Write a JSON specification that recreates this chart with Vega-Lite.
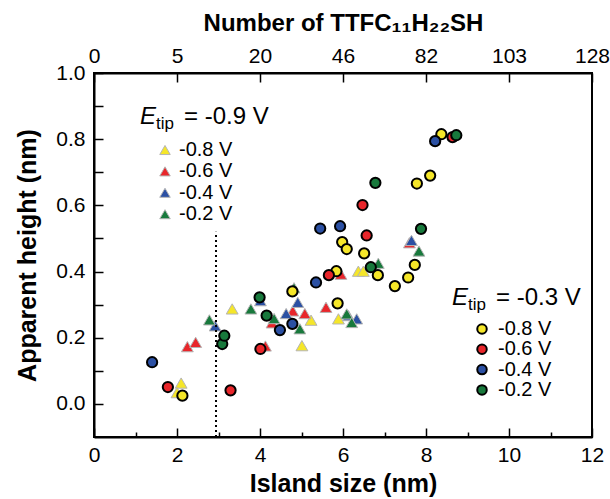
{
  "$schema": "https://vega.github.io/schema/vega-lite/v6.json",
  "width": 498,
  "height": 364,
  "autosize": {"type": "none"},
  "padding": {"left": 94, "top": 73, "right": 18, "bottom": 62},
  "background": "white",
  "config": {
    "view": {"stroke": "black", "strokeWidth": 2},
    "font": "Liberation Sans",
    "axis": {
      "grid": false,
      "domainColor": "black",
      "domainWidth": 2,
      "tickColor": "black",
      "tickWidth": 1.5,
      "labelFont": "Liberation Sans",
      "labelFontSize": 21,
      "labelColor": "black",
      "titleFont": "Liberation Sans",
      "titleFontSize": 25,
      "titleFontWeight": "bold",
      "titleColor": "black",
      "labelFlush": false,
      "labelOverlap": false
    }
  },
  "datasets": {
    "pts": [
      {"size": 2.10, "height": 0.063, "etip": "-0.9 V", "bias": "-0.8 V"},
      {"size": 2.00, "height": 0.034, "etip": "-0.9 V", "bias": "-0.8 V"},
      {"size": 3.33, "height": 0.287, "etip": "-0.9 V", "bias": "-0.8 V"},
      {"size": 5.01, "height": 0.176, "etip": "-0.9 V", "bias": "-0.8 V"},
      {"size": 5.23, "height": 0.253, "etip": "-0.9 V", "bias": "-0.8 V"},
      {"size": 5.89, "height": 0.257, "etip": "-0.9 V", "bias": "-0.8 V"},
      {"size": 6.37, "height": 0.401, "etip": "-0.9 V", "bias": "-0.8 V"},
      {"size": 6.49, "height": 0.401, "etip": "-0.9 V", "bias": "-0.8 V"},
      {"size": 2.25, "height": 0.173, "etip": "-0.9 V", "bias": "-0.6 V"},
      {"size": 2.45, "height": 0.186, "etip": "-0.9 V", "bias": "-0.6 V"},
      {"size": 4.13, "height": 0.175, "etip": "-0.9 V", "bias": "-0.6 V"},
      {"size": 4.29, "height": 0.245, "etip": "-0.9 V", "bias": "-0.6 V"},
      {"size": 4.79, "height": 0.281, "etip": "-0.9 V", "bias": "-0.6 V"},
      {"size": 5.08, "height": 0.273, "etip": "-0.9 V", "bias": "-0.6 V"},
      {"size": 5.59, "height": 0.292, "etip": "-0.9 V", "bias": "-0.6 V"},
      {"size": 5.95, "height": 0.392, "etip": "-0.9 V", "bias": "-0.6 V"},
      {"size": 7.60, "height": 0.487, "etip": "-0.9 V", "bias": "-0.6 V"},
      {"size": 2.92, "height": 0.236, "etip": "-0.9 V", "bias": "-0.4 V"},
      {"size": 4.01, "height": 0.312, "etip": "-0.9 V", "bias": "-0.4 V"},
      {"size": 4.63, "height": 0.273, "etip": "-0.9 V", "bias": "-0.4 V"},
      {"size": 4.91, "height": 0.307, "etip": "-0.9 V", "bias": "-0.4 V"},
      {"size": 6.13, "height": 0.267, "etip": "-0.9 V", "bias": "-0.4 V"},
      {"size": 6.33, "height": 0.257, "etip": "-0.9 V", "bias": "-0.4 V"},
      {"size": 7.65, "height": 0.494, "etip": "-0.9 V", "bias": "-0.4 V"},
      {"size": 2.78, "height": 0.254, "etip": "-0.9 V", "bias": "-0.2 V"},
      {"size": 3.78, "height": 0.287, "etip": "-0.9 V", "bias": "-0.2 V"},
      {"size": 4.34, "height": 0.258, "etip": "-0.9 V", "bias": "-0.2 V"},
      {"size": 4.82, "height": 0.351, "etip": "-0.9 V", "bias": "-0.2 V"},
      {"size": 4.96, "height": 0.227, "etip": "-0.9 V", "bias": "-0.2 V"},
      {"size": 6.09, "height": 0.272, "etip": "-0.9 V", "bias": "-0.2 V"},
      {"size": 6.21, "height": 0.246, "etip": "-0.9 V", "bias": "-0.2 V"},
      {"size": 6.85, "height": 0.425, "etip": "-0.9 V", "bias": "-0.2 V"},
      {"size": 7.83, "height": 0.462, "etip": "-0.9 V", "bias": "-0.2 V"},
      {"size": 2.13, "height": 0.025, "etip": "-0.3 V", "bias": "-0.8 V"},
      {"size": 4.78, "height": 0.340, "etip": "-0.3 V", "bias": "-0.8 V"},
      {"size": 5.84, "height": 0.401, "etip": "-0.3 V", "bias": "-0.8 V"},
      {"size": 5.87, "height": 0.304, "etip": "-0.3 V", "bias": "-0.8 V"},
      {"size": 5.98, "height": 0.489, "etip": "-0.3 V", "bias": "-0.8 V"},
      {"size": 6.09, "height": 0.468, "etip": "-0.3 V", "bias": "-0.8 V"},
      {"size": 6.51, "height": 0.455, "etip": "-0.3 V", "bias": "-0.8 V"},
      {"size": 6.84, "height": 0.389, "etip": "-0.3 V", "bias": "-0.8 V"},
      {"size": 7.25, "height": 0.356, "etip": "-0.3 V", "bias": "-0.8 V"},
      {"size": 7.57, "height": 0.382, "etip": "-0.3 V", "bias": "-0.8 V"},
      {"size": 7.73, "height": 0.420, "etip": "-0.3 V", "bias": "-0.8 V"},
      {"size": 7.78, "height": 0.666, "etip": "-0.3 V", "bias": "-0.8 V"},
      {"size": 8.10, "height": 0.690, "etip": "-0.3 V", "bias": "-0.8 V"},
      {"size": 8.37, "height": 0.815, "etip": "-0.3 V", "bias": "-0.8 V"},
      {"size": 1.78, "height": 0.051, "etip": "-0.3 V", "bias": "-0.6 V"},
      {"size": 3.29, "height": 0.041, "etip": "-0.3 V", "bias": "-0.6 V"},
      {"size": 4.01, "height": 0.166, "etip": "-0.3 V", "bias": "-0.6 V"},
      {"size": 5.66, "height": 0.389, "etip": "-0.3 V", "bias": "-0.6 V"},
      {"size": 6.47, "height": 0.601, "etip": "-0.3 V", "bias": "-0.6 V"},
      {"size": 6.57, "height": 0.509, "etip": "-0.3 V", "bias": "-0.6 V"},
      {"size": 8.64, "height": 0.806, "etip": "-0.3 V", "bias": "-0.6 V"},
      {"size": 1.40, "height": 0.126, "etip": "-0.3 V", "bias": "-0.4 V"},
      {"size": 4.48, "height": 0.223, "etip": "-0.3 V", "bias": "-0.4 V"},
      {"size": 4.78, "height": 0.242, "etip": "-0.3 V", "bias": "-0.4 V"},
      {"size": 5.35, "height": 0.367, "etip": "-0.3 V", "bias": "-0.4 V"},
      {"size": 5.45, "height": 0.530, "etip": "-0.3 V", "bias": "-0.4 V"},
      {"size": 5.93, "height": 0.537, "etip": "-0.3 V", "bias": "-0.4 V"},
      {"size": 8.22, "height": 0.794, "etip": "-0.3 V", "bias": "-0.4 V"},
      {"size": 3.09, "height": 0.181, "etip": "-0.3 V", "bias": "-0.2 V"},
      {"size": 3.14, "height": 0.206, "etip": "-0.3 V", "bias": "-0.2 V"},
      {"size": 3.99, "height": 0.322, "etip": "-0.3 V", "bias": "-0.2 V"},
      {"size": 4.16, "height": 0.267, "etip": "-0.3 V", "bias": "-0.2 V"},
      {"size": 6.67, "height": 0.413, "etip": "-0.3 V", "bias": "-0.2 V"},
      {"size": 6.78, "height": 0.668, "etip": "-0.3 V", "bias": "-0.2 V"},
      {"size": 7.88, "height": 0.529, "etip": "-0.3 V", "bias": "-0.2 V"},
      {"size": 8.73, "height": 0.812, "etip": "-0.3 V", "bias": "-0.2 V"}
    ]
  },
  "layer": [
    {
      "data": {"name": "pts"},
      "transform": [{"filter": "datum.etip == '-0.9 V'"}],
      "mark": {"type": "point", "shape": "triangle-up", "filled": true, "size": 140, "stroke": "#b5b5b5", "strokeWidth": 1, "opacity": 1},
      "encoding": {
        "x": {
          "field": "size", "type": "quantitative",
          "scale": {"domain": [0, 12], "nice": false, "zero": false},
          "axis": {"orient": "bottom", "values": [0, 2, 4, 6, 8, 10, 12], "format": "d", "tickSize": -9, "labelPadding": 16, "title": "Island size (nm)", "titlePadding": 6}
        },
        "y": {
          "field": "height", "type": "quantitative",
          "scale": {"domain": [-0.1, 1.0], "nice": false, "zero": false},
          "axis": {"orient": "left", "values": [0, 0.1, 0.2, 0.3, 0.4, 0.5, 0.6, 0.7, 0.8, 0.9, 1.0], "labelExpr": "round(datum.value*10) % 2 == 0 ? format(datum.value, '.1f') : ''", "tickSize": -9, "labelPadding": 18, "title": "Apparent height (nm)", "titlePadding": 15}
        },
        "fill": {
          "field": "bias", "type": "nominal",
          "scale": {"domain": ["-0.8 V", "-0.6 V", "-0.4 V", "-0.2 V"], "range": ["#f5e629", "#e8262b", "#2b50a3", "#18793c"]},
          "legend": {"orient": "none", "legendX": 61, "legendY": 67, "title": null, "symbolType": "triangle-up", "symbolSize": 110, "symbolStrokeColor": "#b5b5b5", "symbolStrokeWidth": 1, "symbolOpacity": 1, "labelFontSize": 20, "labelFont": "Liberation Sans", "labelColor": "black", "labelOffset": 4, "rowPadding": 1.4, "padding": 0, "labelLimit": 200}
        }
      }
    },
    {
      "data": {"name": "pts"},
      "transform": [{"filter": "datum.etip == '-0.3 V'"}],
      "mark": {"type": "point", "shape": "circle", "filled": true, "size": 105, "stroke": "black", "strokeWidth": 2, "opacity": 1},
      "encoding": {
        "x": {
          "field": "size", "type": "quantitative",
          "scale": {"domain": [0, 12], "nice": false, "zero": false},
          "axis": {"orient": "bottom", "values": [1, 3, 5, 7, 9, 11], "labels": false, "domain": false, "tickSize": -5, "title": null}
        },
        "y": {
          "field": "height", "type": "quantitative",
          "scale": {"domain": [-0.1, 1.0], "nice": false, "zero": false},
          "axis": null
        },
        "fill": {
          "field": "bias", "type": "nominal",
          "scale": {"domain": ["-0.8 V", "-0.6 V", "-0.4 V", "-0.2 V"], "range": ["#f5e629", "#e8262b", "#2b50a3", "#18793c"]},
          "legend": {"orient": "none", "legendX": 378, "legendY": 246, "title": null, "symbolType": "circle", "symbolSize": 90, "symbolStrokeColor": "black", "symbolStrokeWidth": 2, "symbolOpacity": 1, "labelFontSize": 20, "labelFont": "Liberation Sans", "labelColor": "black", "labelOffset": 6, "rowPadding": 0.3, "padding": 0, "labelLimit": 200}
        }
      }
    },
    {
      "data": {"values": [{"label": "threshold"}]},
      "mark": {"type": "rule", "color": "black", "strokeWidth": 2, "strokeDash": [2, 3]},
      "encoding": {
        "x": {
          "datum": 2.94, "type": "quantitative",
          "scale": {"domain": [0, 12], "nice": false, "zero": false},
          "axis": {"orient": "top", "values": [0, 2, 4, 6, 8, 10, 12], "labelExpr": "datum.value == 0 ? '0' : datum.value == 2 ? '5' : datum.value == 4 ? '20' : datum.value == 6 ? '46' : datum.value == 8 ? '82' : datum.value == 10 ? '103' : '128'", "tickSize": -9, "labelPadding": 16, "title": "Number of TTFC₁₁H₂₂SH", "titleFontSize": 24, "titlePadding": 10}
        },
        "y": {"datum": -0.1, "type": "quantitative", "scale": {"domain": [-0.1, 1.0], "nice": false, "zero": false}, "axis": null},
        "y2": {"datum": 0.52}
      }
    },
    {
      "data": {"values": [{"t": "E"}]},
      "mark": {"type": "text", "align": "left", "baseline": "alphabetic", "fontSize": 24, "fontStyle": "italic", "font": "Liberation Sans", "color": "black"},
      "encoding": {
        "x": {"datum": 1.108, "type": "quantitative", "scale": {"domain": [0, 12], "nice": false, "zero": false}, "axis": null},
        "y": {"datum": 0.845, "type": "quantitative", "scale": {"domain": [-0.1, 1.0], "nice": false, "zero": false}, "axis": null},
        "text": {"field": "t"}
      }
    },
    {
      "data": {"values": [{"t": "tip"}]},
      "mark": {"type": "text", "align": "left", "baseline": "alphabetic", "fontSize": 17, "font": "Liberation Sans", "color": "black", "dx": 16, "dy": 5},
      "encoding": {
        "x": {"datum": 1.108, "type": "quantitative", "scale": {"domain": [0, 12], "nice": false, "zero": false}, "axis": null},
        "y": {"datum": 0.845, "type": "quantitative", "scale": {"domain": [-0.1, 1.0], "nice": false, "zero": false}, "axis": null},
        "text": {"field": "t"}
      }
    },
    {
      "data": {"values": [{"t": "= -0.9 V"}]},
      "mark": {"type": "text", "align": "left", "baseline": "alphabetic", "fontSize": 24, "font": "Liberation Sans", "color": "black", "dx": 44},
      "encoding": {
        "x": {"datum": 1.108, "type": "quantitative", "scale": {"domain": [0, 12], "nice": false, "zero": false}, "axis": null},
        "y": {"datum": 0.845, "type": "quantitative", "scale": {"domain": [-0.1, 1.0], "nice": false, "zero": false}, "axis": null},
        "text": {"field": "t"}
      }
    },
    {
      "data": {"values": [{"t": "E"}]},
      "mark": {"type": "text", "align": "left", "baseline": "alphabetic", "fontSize": 24, "fontStyle": "italic", "font": "Liberation Sans", "color": "black"},
      "encoding": {
        "x": {"datum": 8.627, "type": "quantitative", "scale": {"domain": [0, 12], "nice": false, "zero": false}, "axis": null},
        "y": {"datum": 0.30, "type": "quantitative", "scale": {"domain": [-0.1, 1.0], "nice": false, "zero": false}, "axis": null},
        "text": {"field": "t"}
      }
    },
    {
      "data": {"values": [{"t": "tip"}]},
      "mark": {"type": "text", "align": "left", "baseline": "alphabetic", "fontSize": 17, "font": "Liberation Sans", "color": "black", "dx": 16, "dy": 5},
      "encoding": {
        "x": {"datum": 8.627, "type": "quantitative", "scale": {"domain": [0, 12], "nice": false, "zero": false}, "axis": null},
        "y": {"datum": 0.30, "type": "quantitative", "scale": {"domain": [-0.1, 1.0], "nice": false, "zero": false}, "axis": null},
        "text": {"field": "t"}
      }
    },
    {
      "data": {"values": [{"t": "= -0.3 V"}]},
      "mark": {"type": "text", "align": "left", "baseline": "alphabetic", "fontSize": 24, "font": "Liberation Sans", "color": "black", "dx": 44},
      "encoding": {
        "x": {"datum": 8.627, "type": "quantitative", "scale": {"domain": [0, 12], "nice": false, "zero": false}, "axis": null},
        "y": {"datum": 0.30, "type": "quantitative", "scale": {"domain": [-0.1, 1.0], "nice": false, "zero": false}, "axis": null},
        "text": {"field": "t"}
      }
    }
  ],
  "resolve": {"scale": {"fill": "independent"}, "axis": {"x": "independent", "y": "independent"}}
}
